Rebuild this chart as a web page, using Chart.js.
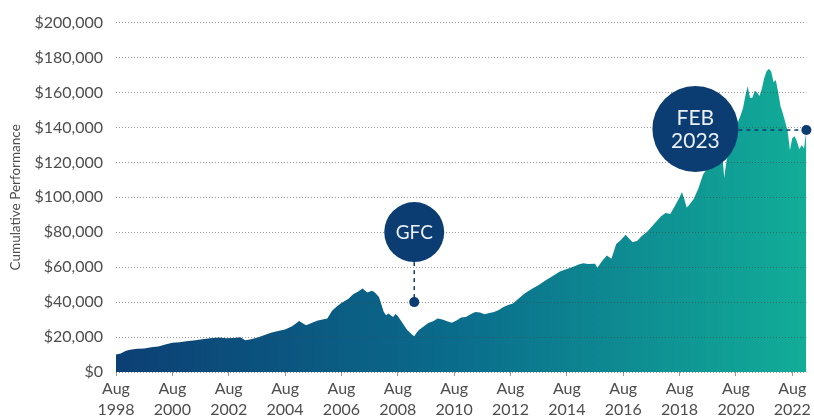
<!DOCTYPE html>
<html>
<head>
<meta charset="utf-8">
<script src="https://cdn.jsdelivr.net/npm/chart.js@4"></script>
<style>
  html, body { margin: 0; padding: 0; background: #fff; }
  #wrap { width: 814px; height: 418px; }
</style>
</head>
<body>
<div id="wrap"><canvas id="chart"></canvas></div>
<script>
// Months since Aug 1998 and cumulative value of $10,000
const months = [0, 2, 4, 6, 9, 12, 15, 18, 21, 24, 27, 30, 33, 36, 40, 44, 47, 50, 53, 55, 57, 60, 63, 66, 69, 72, 75, 78, 80, 81, 84, 86, 88, 90, 92, 94, 96, 99, 101, 103, 105, 107, 109, 110, 112, 114, 115, 116, 118, 119, 120, 122, 124, 126, 127, 128, 129, 131, 133, 135, 137, 139, 141, 143, 145, 147, 149, 151, 153, 155, 157, 159, 161, 163, 165, 167, 169, 171, 174, 177, 180, 183, 186, 189, 192, 195, 197, 199, 201, 204, 205, 207, 209, 211, 213, 215, 217, 220, 222, 224, 226, 228, 230, 232, 234, 236, 238, 240, 241, 242, 243, 244, 246, 248, 250, 252, 254, 256, 258, 259, 260, 262, 264, 265, 266, 267, 268, 269, 270, 271, 272, 273, 274, 275, 276, 277, 278, 279, 280, 281, 282, 283, 284, 285, 286, 287, 288, 289, 290, 291, 292, 293, 294];
const values = [10000, 10600, 12000, 12800, 13300, 13500, 14200, 14600, 15800, 16800, 17000, 17600, 18000, 18600, 19300, 19700, 19300, 19500, 19900, 18200, 18600, 19600, 21000, 22400, 23500, 24300, 26200, 29200, 27500, 26800, 28500, 29500, 30000, 30600, 35000, 37500, 39500, 42000, 44500, 46000, 47800, 45500, 46500, 45800, 43000, 34500, 32500, 33500, 31500, 33200, 32000, 28000, 24000, 21500, 20500, 22500, 24000, 26000, 28000, 29000, 30600, 30000, 29000, 28200, 29500, 31200, 31500, 33000, 34400, 34000, 33000, 33800, 34400, 35500, 37200, 38300, 39200, 41500, 45000, 47500, 49800, 52500, 55000, 57500, 59000, 60400, 61500, 62300, 61800, 62000, 59700, 63500, 66700, 64800, 73300, 75500, 78600, 74300, 75200, 78000, 80000, 83000, 86000, 89000, 91000, 90400, 95000, 100000, 103000, 99000, 94200, 95500, 99000, 105000, 113000, 117000, 120000, 124000, 128000, 111000, 121000, 132000, 140000, 143500, 147000, 151000, 158000, 163500, 157000, 157000, 161000, 160000, 158000, 162000, 168000, 172000, 173600, 172000, 166000, 167000, 160000, 152000, 148000, 143000, 138000, 127000, 134000, 135000, 132000, 127500, 130000, 128000, 138500];

const tickYears = [1998, 2000, 2002, 2004, 2006, 2008, 2010, 2012, 2014, 2016, 2018, 2020, 2022];

// Callouts: label lines, month and value of the marker dot
const calloutLabels = [['GFC'], ['FEB', '2023']];
const calloutMonths = [127, 294];
const calloutValues = [40000, 138500];

const navy = '#0c3d72';
const labelFont = 'Lato, "Open Sans", sans-serif';

function fillGradient(context) {
    const area = context.chart.chartArea;
    if (!area) return navy;
    const g = context.chart.ctx.createLinearGradient(area.left, 0, area.right, 0);
    g.addColorStop(0, '#0c3f74');
    g.addColorStop(0.5, '#0a6d8c');
    g.addColorStop(1, '#12ad98');
    return g;
}

const calloutPlugin = {
    id: 'callouts',
    afterDraw(chart) {
        const ctx = chart.ctx;
        const xs = chart.scales.x;
        const ys = chart.scales.y;
        ctx.save();
        calloutLabels.forEach((lines, i) => {
            const px = xs.getPixelForValue(calloutMonths[i]);
            const py = ys.getPixelForValue(calloutValues[i]);
            let cx, cy, r, sx, sy, fontSize;
            if (i === 0) {
                // bubble above the dot
                r = 30; cx = px; cy = py - 70; sx = cx; sy = cy + r;
                fontSize = 19;
            } else {
                // bubble left of the dot
                r = 43; cx = px - 111; cy = py - 1; sx = cx + r; sy = py;
                fontSize = 21;
            }
            ctx.strokeStyle = navy;
            ctx.lineWidth = 1.5;
            ctx.setLineDash([4, 4]);
            ctx.beginPath();
            ctx.moveTo(sx, sy);
            ctx.lineTo(px, py);
            ctx.stroke();
            ctx.setLineDash([]);

            ctx.fillStyle = navy;
            ctx.beginPath();
            ctx.arc(px, py, 5, 0, Math.PI * 2);
            ctx.fill();
            ctx.beginPath();
            ctx.arc(cx, cy, r, 0, Math.PI * 2);
            ctx.fill();

            ctx.fillStyle = '#e9f0f7';
            ctx.font = fontSize + 'px ' + labelFont;
            ctx.textAlign = 'center';
            ctx.textBaseline = 'middle';
            const lh = 23;
            lines.forEach((t, j) => {
                ctx.fillText(t, cx, cy + (j - (lines.length - 1) / 2) * lh + 1);
            });
        });
        ctx.restore();
    }
};

const ctx = document.getElementById('chart').getContext('2d');
new Chart(ctx, {
    type: 'line',
    data: {
        datasets: [{
            data: months.map((m, i) => ({ x: m, y: values[i] })),
            fill: 'origin',
            backgroundColor: fillGradient,
            borderWidth: 0,
            pointRadius: 0,
            tension: 0
        }]
    },
    options: {
        responsive: true,
        maintainAspectRatio: false,
        animation: false,
        layout: { padding: { top: 21, right: 7, left: 0, bottom: 0 } },
        plugins: {
            legend: { display: false },
            tooltip: { enabled: false }
        },
        scales: {
            x: {
                type: 'linear',
                min: 0,
                max: 294,
                afterBuildTicks: (scale) => {
                    scale.ticks = tickYears.map(y => ({ value: (y - 1998) * 12 }));
                },
                afterFit: (scale) => { scale.height = 46; },
                ticks: {
                    autoSkip: false,
                    maxRotation: 0,
                    padding: 3,
                    color: '#4d4d4d',
                    font: { family: labelFont, size: 16, lineHeight: 1.27 },
                    callback: (v) => ['Aug', String(1998 + v / 12)]
                },
                grid: {
                    drawOnChartArea: false,
                    drawTicks: true,
                    tickLength: 4,
                    color: '#999'
                },
                border: { display: false }
            },
            y: {
                min: 0,
                max: 200000,
                afterFit: (scale) => { scale.width = 116; },
                ticks: {
                    stepSize: 20000,
                    padding: 13,
                    color: '#4d4d4d',
                    font: { family: labelFont, size: 16 },
                    callback: (v) => '$' + v.toLocaleString('en-US')
                },
                grid: {
                    drawTicks: false,
                    color: 'rgba(70,70,70,0.55)',
                    lineWidth: 1,
                    z: 1
                },
                border: { display: false, dash: [1, 2] },
                title: {
                    display: true,
                    text: 'Cumulative Performance',
                    color: '#4d4d4d',
                    font: { family: labelFont, size: 13.5 },
                    padding: { top: 8 }
                }
            }
        }
    },
    plugins: [calloutPlugin]
});
</script>
</body>
</html>
